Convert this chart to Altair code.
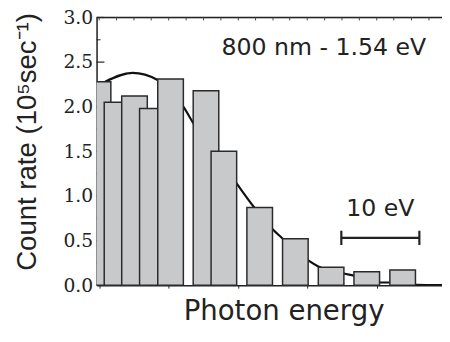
import altair as alt
import pandas as pd

# Harmonic bars (photon energy in eV, count rate in 1e5/s)
bar_energy = [0.19, 2.62, 4.86, 7.15, 9.48, 14.02, 16.31, 20.90, 25.47, 30.05, 34.62, 39.22]
bar_rate = [2.28, 2.05, 2.12, 1.98, 2.31, 2.18, 1.50, 0.87, 0.52, 0.20, 0.15, 0.17]
BAR_W = 3.28

# Smooth envelope curve
curve_energy = [1.1, 4.6, 7.82, 11.2, 12.36, 17.94, 20.21, 22.53, 23.87, 27.07,
                28.41, 31.69, 32.95, 36.28, 37.58, 40.85, 44.26]
curve_rate = [2.28, 2.38, 2.30, 1.99, 1.82, 1.14, 0.87, 0.63, 0.52, 0.28,
              0.21, 0.13, 0.107, 0.03, 0.03, 0.003, 0.0]

# x-axis tick positions (unlabelled)
x_ticks = [0.33, 2.56, 4.79, 7.00, 9.24, 11.48, 13.71, 15.93, 18.16, 20.37,
           22.61, 24.75, 26.99, 29.22, 31.44, 33.67, 35.90, 38.08, 40.35, 42.59]
y_major = [0.0, 0.5, 1.0, 1.5, 2.0, 2.5, 3.0]
y_minor = [0.25, 0.75, 1.25, 1.75, 2.25, 2.75]

# 10 eV scale bar
scale_x = [31.36, 41.36]
scale_y = 0.53
cap_half = 0.08

XMAX = 44.26

bars = pd.DataFrame({"e": bar_energy, "r": bar_rate, "i": list(range(len(bar_energy)))})
curve = pd.DataFrame({"e": curve_energy, "r": curve_rate})

xs = alt.Scale(domain=[0, XMAX], nice=False, zero=False)
ys = alt.Scale(domain=[0, 3], nice=False)

x_axis = alt.Axis(values=x_ticks, labels=False, tickSize=3, tickColor="#222",
                  domainColor="#222", domainWidth=1.5, tickWidth=1,
                  title="Photon energy", titleFont="DejaVu Sans", titleFontSize=28,
                  titleFontWeight="normal", titleColor="#222",
                  titleX=190, titleY=35, titleBaseline="alphabetic", grid=False)
y_axis = alt.Axis(values=y_major, format=".1f", ticks=False, labelPadding=4,
                  labelFont="DejaVu Serif", labelFontSize=19, labelColor="#222",
                  domainColor="#222", domainWidth=1.5, grid=False,
                  title="Count rate (10⁵sec⁻¹)", titleFont="Liberation Sans",
                  titleFontSize=28, titleFontWeight="normal", titleColor="#222",
                  titleX=-56, titleY=126, titleBaseline="bottom", titleAngle=270)

line = alt.Chart(curve).mark_line(interpolate="monotone", color="#111", strokeWidth=2.2, clip=True).encode(
    x=alt.X("e:Q", scale=xs, axis=x_axis),
    y=alt.Y("r:Q", scale=ys, axis=y_axis),
)

major = alt.Chart(pd.DataFrame({"v": y_major})).mark_rule(color="#222", strokeWidth=1.2).encode(
    y=alt.Y("v:Q", scale=ys), x=alt.value(0), x2=alt.value(8))
minor = alt.Chart(pd.DataFrame({"v": y_minor})).mark_rule(color="#222", strokeWidth=1).encode(
    y=alt.Y("v:Q", scale=ys), x=alt.value(0), x2=alt.value(4))

top_line = alt.Chart(pd.DataFrame({"a": [0]})).mark_rule(color="#222", strokeWidth=1.5).encode(
    x=alt.value(0), x2=alt.value(351), y=alt.value(0))
top_ticks = alt.Chart(pd.DataFrame({"t": x_ticks})).mark_rule(color="#444", strokeWidth=1).encode(
    x=alt.X("t:Q", scale=xs), y=alt.value(0), y2=alt.value(3))

bar_layer = alt.Chart(bars).transform_calculate(
    x1=f"datum.e - {BAR_W / 2}", x2=f"datum.e + {BAR_W / 2}"
).mark_rect(fill="#c8c9cb", stroke="#2a2a2a", strokeWidth=1.5, clip=True).encode(
    x=alt.X("x1:Q", scale=xs),
    x2="x2:Q",
    y=alt.Y("r:Q", scale=ys),
    y2=alt.datum(0),
    order="i:Q",
)

scale_df = pd.DataFrame({"x1": [scale_x[0]], "x2": [scale_x[1]], "y": [scale_y]})
scale_bar = alt.Chart(scale_df).mark_rule(color="#222", strokeWidth=2.2).encode(
    x=alt.X("x1:Q", scale=xs), x2="x2:Q", y=alt.Y("y:Q", scale=ys))
caps_df = pd.DataFrame({"x": scale_x, "y1": [scale_y - cap_half] * 2, "y2": [scale_y + cap_half] * 2})
caps = alt.Chart(caps_df).mark_rule(color="#222", strokeWidth=2.2).encode(
    x=alt.X("x:Q", scale=xs), y=alt.Y("y1:Q", scale=ys), y2="y2:Q")

labels_df = pd.DataFrame({"x": [16.0], "y": [2.58], "t": ["800 nm - 1.54 eV"]})
label1 = alt.Chart(labels_df).mark_text(font="DejaVu Sans", fontSize=24, align="left",
                                        baseline="alphabetic", color="#222").encode(
    x=alt.X("x:Q", scale=xs), y=alt.Y("y:Q", scale=ys), text="t:N")
labels2_df = pd.DataFrame({"x": [36.36], "y": [0.78], "t": ["10 eV"]})
label2 = alt.Chart(labels2_df).mark_text(font="DejaVu Sans", fontSize=24, align="center",
                                         baseline="alphabetic", color="#222").encode(
    x=alt.X("x:Q", scale=xs), y=alt.Y("y:Q", scale=ys), text="t:N")

chart = alt.layer(line, major, minor, top_line, top_ticks, bar_layer, scale_bar, caps, label1, label2).properties(
    width=351, height=272,
    autosize=alt.AutoSizeParams(type="none"),
    padding={"left": 90, "top": 7, "right": 0, "bottom": 47},
).configure_view(stroke=None).configure(background="white")

chart.save("out.html", embed_options={"renderer": "svg", "actions": False})
